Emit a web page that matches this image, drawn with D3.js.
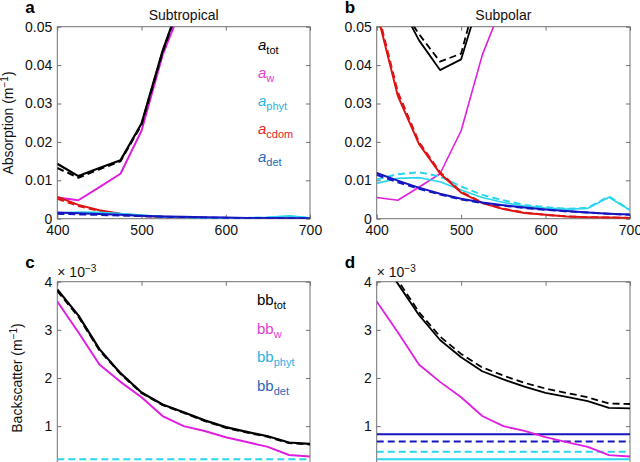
<!DOCTYPE html>
<html><head><meta charset="utf-8">
<script src="https://cdn.jsdelivr.net/npm/d3@7"></script>
<style>
body{margin:0;background:#fff}
svg{display:block;font-family:"Liberation Sans",Arial,Helvetica,sans-serif}
</style>
</head><body>
<svg id="chart" width="640" height="462"></svg>
<script>
// ---------- data ----------
const wavelengths = [400,425,450,475,500,525,550,575,600,625,650,675,700];
const xTicks = [400,500,600,700];
const absTicks = [0,0.01,0.02,0.03,0.04,0.05];
const bbTicks = [1,2,3,4];

// pure water absorption (both panels)
const aW = [0.0055,0.0048,0.0082,0.0117,0.0229,0.0426,0.0565,0.09,0.24,0.29,0.34,0.44,0.65];

// Subtropical absorption (solid / dashed)
const stTot     = [0.0143,0.0111,0.0132,0.0152,0.0248,0.0437,0.059,0.092,0.241,0.291,0.341,0.441,0.651];
const stTotD    = [0.0132,0.0107,0.0129,0.0150,0.0245,0.0434,0.0588,0.092,0.241,0.291,0.341,0.441,0.651];
const stCdom    = [0.0057,0.0036,0.0022,0.0013,0.0008,0.0005,0.0003,0.0002,0.0001,0.0001,0.00005,0.00003,0.00002];
const stCdomD   = [0.0052,0.0033,0.0020,0.0012,0.0007,0.0004,0.0003,0.0002,0.0001,0.0001,0.00005,0.00003,0.00002];
const stPhyt    = [0.0014,0.0017,0.0016,0.0013,0.0009,0.0005,0.0003,0.0002,0.0002,0.0002,0.0003,0.0007,0.0002];
const stPhytD   = [0.0012,0.0015,0.0015,0.0012,0.0008,0.0005,0.0003,0.0002,0.0002,0.0002,0.0003,0.0006,0.0002];
const stDet     = [0.0016,0.0014,0.0012,0.0010,0.0008,0.0006,0.0005,0.0004,0.0003,0.0002,0.0002,0.0001,0.0001];
const stDetD    = [0.0013,0.0011,0.0010,0.0008,0.0007,0.0005,0.0004,0.0003,0.0002,0.0002,0.0001,0.0001,0.0001];

// Subpolar absorption
const spTot     = [0.072,0.057,0.0465,0.0387,0.0415,0.0595,0.08,0.105,0.25,0.30,0.35,0.46,0.66];
const spTotD    = [0.074,0.0565,0.0481,0.0409,0.043,0.0634,0.082,0.107,0.252,0.302,0.352,0.462,0.662];
const spCdom    = [0.054,0.032,0.0195,0.0118,0.0068,0.0041,0.0025,0.0015,0.0010,0.0006,0.0004,0.0003,0.0002];
const spCdomD   = [0.055,0.033,0.0200,0.0121,0.0070,0.0042,0.0026,0.0016,0.0010,0.0006,0.0004,0.0003,0.0002];
const spPhyt    = [0.0092,0.0105,0.0107,0.0096,0.0075,0.0055,0.0042,0.0033,0.0028,0.0025,0.0027,0.0056,0.0022];
const spPhytD   = [0.0102,0.0116,0.0121,0.0110,0.0084,0.0062,0.0048,0.0036,0.0030,0.0026,0.0028,0.0058,0.0023];
const spDet     = [0.0119,0.0099,0.0081,0.0065,0.0052,0.0042,0.0035,0.0029,0.0024,0.0020,0.0016,0.0013,0.0011];
const spDetD    = [0.0114,0.0095,0.0078,0.0063,0.0050,0.0041,0.0034,0.0028,0.0023,0.0019,0.0016,0.0013,0.0010];

// backscatter (x 10^-3)
const bbW       = [3.59,2.95,2.28,1.92,1.60,1.21,1.00,0.90,0.77,0.67,0.57,0.40,0.37];
const stBbTot   = [3.84,3.30,2.60,2.10,1.70,1.45,1.29,1.12,0.98,0.88,0.79,0.66,0.63];
const stBbTotD  = [3.81,3.28,2.58,2.09,1.69,1.44,1.28,1.11,0.97,0.87,0.78,0.65,0.62];
const stBbPhyt  = [0.20,0.20,0.20,0.20,0.20,0.20,0.20,0.20,0.20,0.20,0.20,0.20,0.20];
const stBbPhytD = [0.31,0.31,0.31,0.31,0.31,0.31,0.31,0.31,0.31,0.31,0.31,0.31,0.31];
const stBbDet   = [0.10,0.10,0.10,0.10,0.10,0.10,0.10,0.10,0.10,0.10,0.10,0.10,0.10];
const spBbTot   = [4.60,3.96,3.31,2.79,2.43,2.14,1.97,1.82,1.69,1.61,1.52,1.38,1.37];
const spBbTotD  = [4.70,4.03,3.37,2.86,2.50,2.22,2.05,1.90,1.78,1.69,1.60,1.47,1.46];
const spBbPhyt  = [0.31,0.31,0.31,0.31,0.31,0.31,0.31,0.31,0.31,0.31,0.31,0.31,0.31];
const spBbPhytD = [0.47,0.47,0.47,0.47,0.47,0.47,0.47,0.47,0.47,0.47,0.47,0.47,0.47];
const spBbDet   = [0.83,0.83,0.83,0.83,0.83,0.83,0.83,0.83,0.83,0.83,0.83,0.83,0.83];
const spBbDetD  = [0.68,0.68,0.68,0.68,0.68,0.68,0.68,0.68,0.68,0.68,0.68,0.68,0.68];

const C = {tot:"#000000", w:"#e01ee0", phyt:"#2ad6ee", cdom:"#dd1414", det:"#1616c0"};
const LC = {tot:"#000000", w:"#e23cd0", phyt:"#2ab2e2", cdom:"#e02424", det:"#2a68b6"};

// ---------- drawing ----------
const svg = d3.select("#chart");
const FONT = 14;

const panels = [
  {id:"a", x0:57.3, x1:310, yTop:26.7, yBot:218.7, dom:[0,0.05], ticks:absTicks, fmt:d=>d===0?"0":d.toFixed(2),
   title:"Subtropical", xlabels:true,
   series:[
     {v:aW,c:C.w,dash:false,w:2},
     {v:stCdomD,c:C.cdom,dash:true,w:2},{v:stCdom,c:C.cdom,dash:false,w:2},
     {v:stPhytD,c:C.phyt,dash:true,w:2},{v:stPhyt,c:C.phyt,dash:false,w:2},
     {v:stDetD,c:C.det,dash:true,w:2},{v:stDet,c:C.det,dash:false,w:2},
     {v:stTotD,c:C.tot,dash:true,w:2.2},{v:stTot,c:C.tot,dash:false,w:2.2}
   ]},
  {id:"b", x0:376.7, x1:630, yTop:26.7, yBot:218.7, dom:[0,0.05], ticks:absTicks, fmt:d=>d===0?"0":d.toFixed(2),
   title:"Subpolar", xlabels:true,
   series:[
     {v:aW,c:C.w,dash:false,w:1.6},
     {v:spPhytD,c:C.phyt,dash:true,w:2},{v:spPhyt,c:C.phyt,dash:false,w:1.6},
     {v:spCdomD,c:C.cdom,dash:true,w:2},{v:spCdom,c:C.cdom,dash:false,w:2},
     {v:spDetD,c:C.det,dash:true,w:2},{v:spDet,c:C.det,dash:false,w:2},
     {v:spTotD,c:C.tot,dash:true,w:1.8},{v:spTot,c:C.tot,dash:false,w:1.8}
   ]},
  {id:"c", x0:57.3, x1:310, yTop:281.7, yBot:474.3, dom:[0,4], ticks:bbTicks, fmt:d=>String(d),
   exp:true, xlabels:false,
   series:[
     {v:stBbDet,c:C.det,dash:false,w:2},
     {v:stBbPhyt,c:C.phyt,dash:false,w:2},{v:stBbPhytD,c:C.phyt,dash:true,w:2},
     {v:bbW,c:C.w,dash:false,w:2},
     {v:stBbTotD,c:C.tot,dash:true,w:2.2},{v:stBbTot,c:C.tot,dash:false,w:2.2}
   ]},
  {id:"d", x0:376.7, x1:630, yTop:281.7, yBot:474.3, dom:[0,4], ticks:bbTicks, fmt:d=>String(d),
   exp:true, xlabels:false,
   series:[
     {v:spBbPhyt,c:C.phyt,dash:false,w:2},{v:spBbPhytD,c:C.phyt,dash:true,w:2},
     {v:spBbDet,c:C.det,dash:false,w:2},{v:spBbDetD,c:C.det,dash:true,w:2},
     {v:bbW,c:C.w,dash:false,w:1.8},
     {v:spBbTotD,c:C.tot,dash:true,w:1.8},{v:spBbTot,c:C.tot,dash:false,w:1.8}
   ]}
];

const defs = svg.append("defs");

panels.forEach(p => {
  const x = d3.scaleLinear().domain([400,700]).range([p.x0,p.x1]);
  const y = d3.scaleLinear().domain(p.dom).range([p.yBot,p.yTop]);
  const g = svg.append("g");

  defs.append("clipPath").attr("id","clip-"+p.id)
    .append("rect").attr("x",p.x0).attr("y",p.yTop).attr("width",p.x1-p.x0).attr("height",p.yBot-p.yTop);

  g.append("rect").attr("x",p.x0).attr("y",p.yTop).attr("width",p.x1-p.x0).attr("height",p.yBot-p.yTop)
    .attr("fill","none").attr("stroke","#707070").attr("stroke-width",1);

  const styleAxis = sel => {
    sel.select(".domain").remove();
    sel.selectAll(".tick line").attr("stroke","#707070");
    sel.selectAll(".tick text").attr("fill","#111").style("font-size",FONT+"px").style("font-family","Liberation Sans, Arial, sans-serif");
  };

  g.append("g").attr("transform",`translate(${p.x0},0)`)
    .call(d3.axisLeft(y).tickValues(p.ticks).tickFormat(p.fmt).tickSize(-4).tickPadding(5))
    .call(styleAxis);
  g.append("g").attr("transform",`translate(${p.x1},0)`)
    .call(d3.axisRight(y).tickValues(p.ticks).tickFormat("").tickSize(-4))
    .call(styleAxis);
  g.append("g").attr("transform",`translate(0,${p.yBot})`)
    .call(d3.axisBottom(x).tickValues(xTicks).tickFormat(p.xlabels?d3.format("d"):"").tickSize(-4).tickPadding(6))
    .call(styleAxis);
  g.append("g").attr("transform",`translate(0,${p.yTop})`)
    .call(d3.axisTop(x).tickValues(xTicks).tickFormat("").tickSize(-4))
    .call(styleAxis);

  const line = d3.line().x((d,i)=>x(wavelengths[i])).y(d=>y(d));
  const lg = g.append("g").attr("clip-path",`url(#clip-${p.id})`);
  p.series.forEach(s => {
    lg.append("path").attr("d",line(s.v)).attr("fill","none")
      .attr("stroke",s.c).attr("stroke-width",s.w)
      .attr("stroke-dasharray",s.dash?"7,4":null)
      .attr("stroke-linejoin","round");
  });

  svg.append("text").attr("x",p.x0-32).attr("y",p.yTop-14).text(p.id)
    .style("font-weight","bold").style("font-size","17px").attr("fill","#000");

  if (p.title) {
    svg.append("text").attr("x",(p.x0+p.x1)/2).attr("y",p.yTop-7).attr("text-anchor","middle")
      .style("font-size",FONT+"px").attr("fill","#111").text(p.title);
  }
  if (p.exp) {
    const t = svg.append("text").attr("x",p.x0).attr("y",p.yTop-5).style("font-size","14px").attr("fill","#111");
    t.append("tspan").text("× 10");
    t.append("tspan").attr("dy",-5).style("font-size","10px").text("−3");
  }
});

function yLabel(txt, xPos, yc){
  const t = svg.append("text").attr("transform",`translate(${xPos},${yc}) rotate(-90)`)
    .attr("text-anchor","middle").style("font-size",FONT+"px").attr("fill","#111");
  t.append("tspan").text(txt+" (m");
  t.append("tspan").attr("dy",-5).style("font-size","10px").text("−1");
  t.append("tspan").attr("dy",5).text(")");
}
yLabel("Absorption", 13, 123);
yLabel("Backscatter", 22, 378);

function legend(items, x0, y0, step, italic){
  items.forEach((it,i) => {
    const t = svg.append("text").attr("x",x0).attr("y",y0+i*step).attr("fill",it.c).style("font-size","15px");
    t.append("tspan").style("font-style",italic?"italic":"normal").text(it.main);
    t.append("tspan").attr("dy",4).style("font-size","11px").text(it.sub);
  });
}
legend([
  {main:"a",sub:"tot",c:LC.tot},{main:"a",sub:"w",c:LC.w},{main:"a",sub:"phyt",c:LC.phyt},
  {main:"a",sub:"cdom",c:LC.cdom},{main:"a",sub:"det",c:LC.det}
], 258, 50, 28, true);
legend([
  {main:"bb",sub:"tot",c:LC.tot},{main:"bb",sub:"w",c:LC.w},{main:"bb",sub:"phyt",c:LC.phyt},
  {main:"bb",sub:"det",c:LC.det}
], 257, 305, 28.5, false);
</script>
</body></html>
